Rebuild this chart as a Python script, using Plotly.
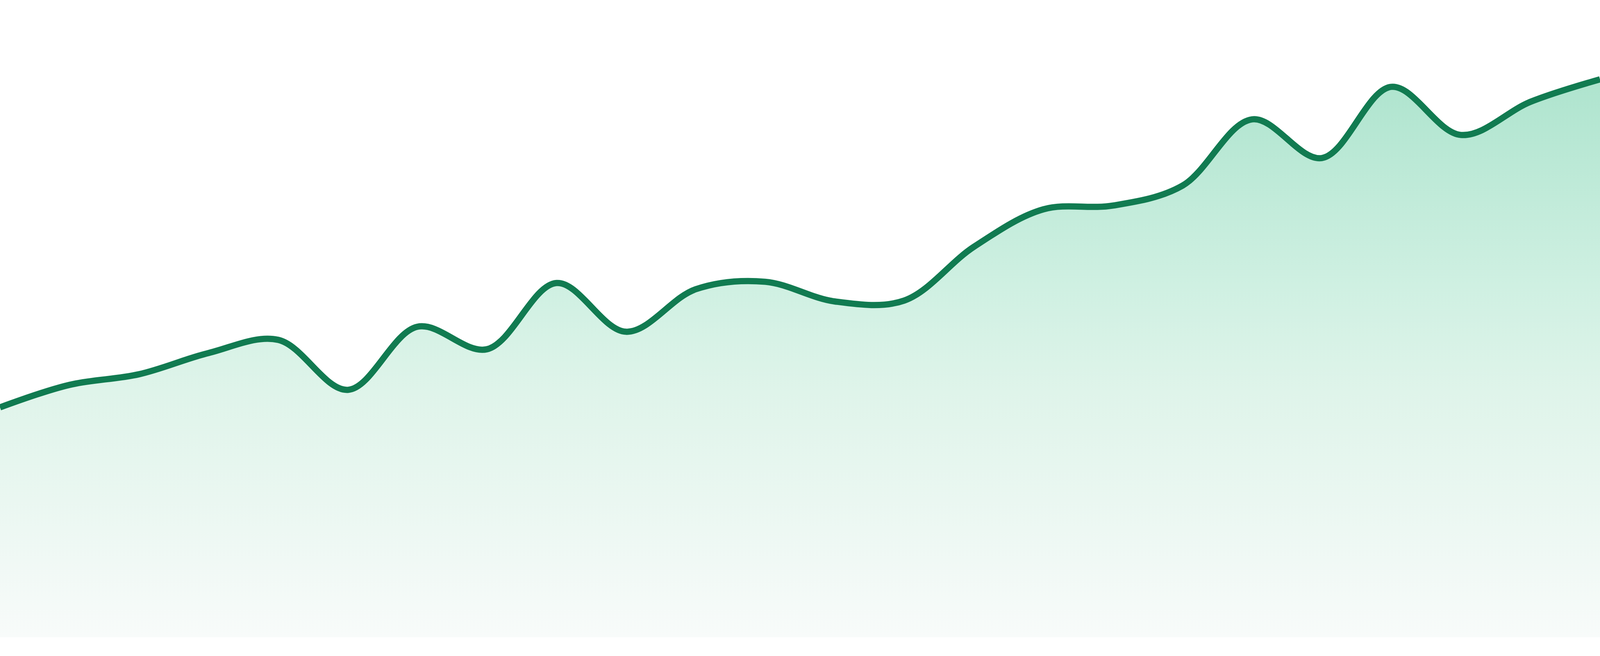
import plotly.graph_objects as go

# one value per period
periods = list(range(24))
values = [
    36.8, 40.4, 42.1, 45.5, 47.6, 39.6, 49.7, 46.1,
    56.7, 48.9, 55.7, 56.9, 53.75, 53.9, 62.5, 68.5,
    69.1, 72.3, 82.9, 76.7, 88.1, 80.4, 85.7, 89.3,
]

LINE_COLOR = "#117b51"
# fill fades from a soft green under the line to almost white at the base
FILL_STOPS = [
    [0.0, "#f8fbfa"],
    [0.44, "#dff4ea"],
    [0.63, "#cff0e2"],
    [1.0, "#aee4ce"],
]


def build_figure():
    fig = go.Figure()
    fig.add_trace(
        go.Scatter(
            x=periods,
            y=values,
            mode="lines",
            line=dict(color=LINE_COLOR, width=16, shape="spline", smoothing=1.0),
            fill="tozeroy",
            fillgradient=dict(
                type="vertical",
                start=0,
                stop=max(values),
                colorscale=FILL_STOPS,
            ),
            hoverinfo="skip",
        )
    )

    fig.update_layout(
        autosize=True,
        margin=dict(l=0, r=0, t=0, b=48),
        paper_bgcolor="white",
        plot_bgcolor="white",
        showlegend=False,
    )
    fig.update_xaxes(range=[0, 23], visible=False, showgrid=False, zeroline=False)
    fig.update_yaxes(range=[0, 102], visible=False, showgrid=False, zeroline=False)
    return fig


fig = build_figure()
# chart fills the window; page body has a default 8px margin, drop it
fig.write_html(
    "out.html",
    config={"displayModeBar": False},
    default_width="100vw",
    default_height="100vh",
    post_script="document.body.style.margin='0';document.body.style.overflow='hidden';",
)
